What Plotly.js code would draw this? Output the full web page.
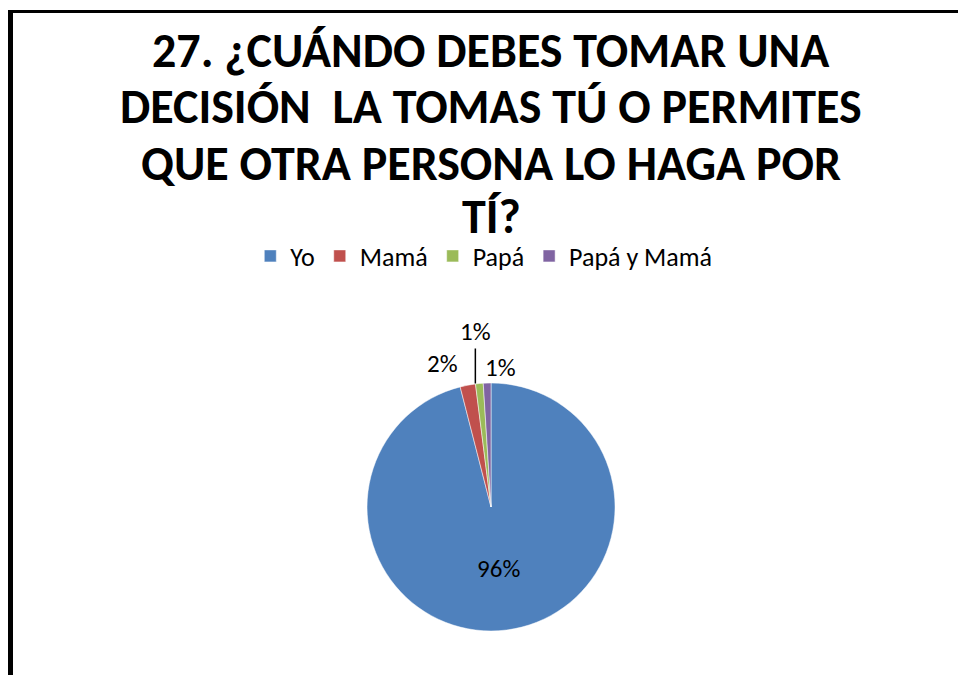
<!DOCTYPE html>
<html><head><meta charset="utf-8">
<script src="https://cdn.plot.ly/plotly-3.0.1.min.js"></script>
<style>
html,body{margin:0;padding:0;background:#fff;}
#frame{position:absolute;left:8px;top:10px;width:950px;height:665px;border-left:5px solid #000;border-top:3px solid #000;box-sizing:border-box;pointer-events:none;}
#chart{position:absolute;left:0;top:0;width:958px;height:675px;}
</style></head>
<body>
<div id="chart"></div>
<div id="frame"></div>
<script>
const categories = ["Yo", "Mamá", "Papá", "Papá y Mamá"];
const values = [96, 2, 1, 1];
const textLabels = ["96%", "2%", "1%", "1%"];
const colors = ["#4F81BD", "#C0504D", "#9BBB59", "#8064A2"];
const titleLines = ["27. ¿CUÁNDO DEBES TOMAR UNA", "DECISIÓN  LA TOMAS TÚ O PERMITES", "QUE OTRA PERSONA LO HAGA POR", "TÍ?"];

const FONT = "Carlito, Calibri, Liberation Sans, sans-serif";
const W = 958, H = 675;
const domX = [0.3831, 0.6420], domY = [0.0652, 0.4326];

const trace = {
  type: "pie",
  labels: categories,
  values: values,
  text: textLabels,
  textinfo: "text",
  sort: false,
  direction: "clockwise",
  rotation: 0,
  textposition: ["inside", "none", "none", "none"],
  insidetextorientation: "horizontal",
  textfont: {family: FONT, size: 25, color: "#000"},
  marker: {colors: colors, line: {color: "#ffffff", width: 0.5}},
  domain: {x: domX, y: domY},
  hoverinfo: "none"
};

// Outside labels for the small slices, placed at each slice's edge from the data
const total = values.reduce((a, b) => a + b, 0);
const cx = (domX[0] + domX[1]) / 2, cy = (domY[0] + domY[1]) / 2;
const Rpx = Math.min((domX[1] - domX[0]) * W, (domY[1] - domY[0]) * H) / 2;
const labelStyle = [null,
  {xshift: -25, yshift: 22, showarrow: false},
  {showarrow: true, ax: 0, ay: -52, xshift: -4},
  {xshift: 13, yshift: 16, showarrow: false}];
const annotations = [];
let cum = 0;
values.forEach((v, i) => {
  const mid = (cum + v / 2) / total * 2 * Math.PI;
  cum += v;
  if (!labelStyle[i]) return;
  const px = cx + Rpx * Math.sin(mid) / W;
  const py = cy + Rpx * Math.cos(mid) / H;
  annotations.push(Object.assign({
    xref: "paper", yref: "paper", x: px, y: py,
    text: textLabels[i], font: {family: FONT, size: 25, color: "#000"},
    arrowhead: 0, arrowwidth: 1.5, arrowcolor: "#000", standoff: 0
  }, labelStyle[i]));
});

const titleY = [48, 104, 161, 214];
titleLines.forEach((t, i) => {
  annotations.push({
    xref: "paper", yref: "paper", x: 491 / W, y: 1 - (titleY[i] + 2) / H,
    xanchor: "center", yanchor: "middle", showarrow: false,
    text: "<b>" + t + "</b>",
    font: {family: FONT, size: 48, color: "#000"}
  });
});

const layout = {
  width: W, height: H,
  margin: {l: 0, r: 0, t: 0, b: 0},
  paper_bgcolor: "#fff",
  showlegend: true,
  legend: {
    orientation: "h", x: 0.505, xanchor: "center", y: 1 - 256 / H, yanchor: "middle",
    font: {family: FONT, size: 26, color: "#000"}
  },
  annotations: annotations
};

Plotly.newPlot("chart", [trace], layout, {displayModeBar: false, staticPlot: true});
</script>
</body></html>
